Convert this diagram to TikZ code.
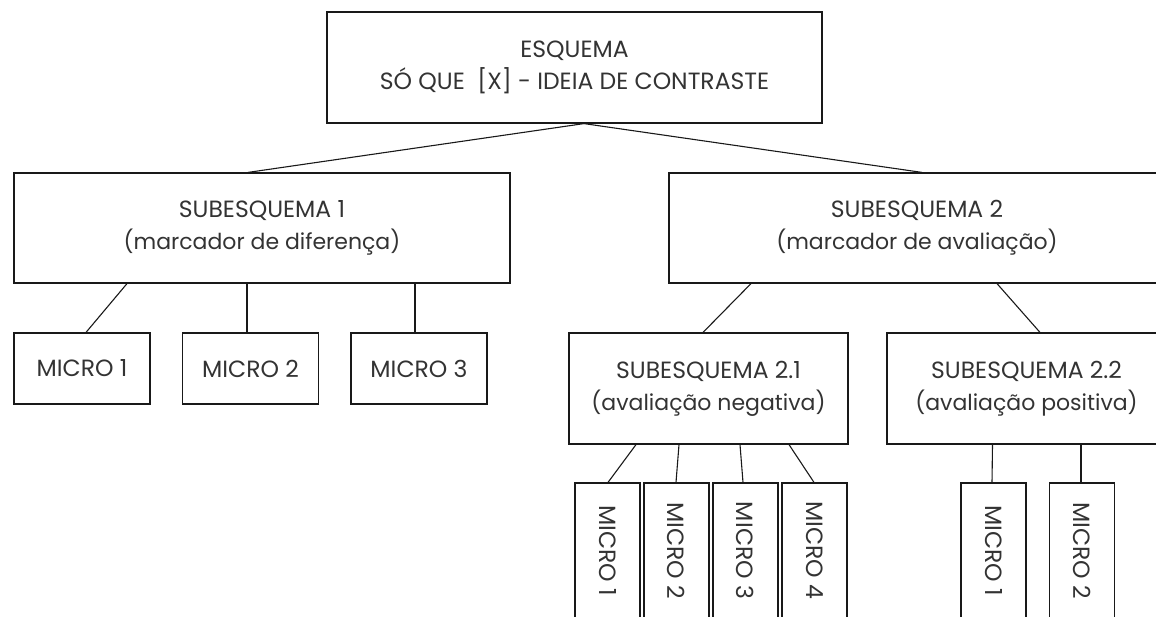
\documentclass[tikz,border=0pt]{standalone}
\usepackage{fontspec}
\setmainfont{Poppins}
\newcommand{\subline}[1]{{\fontsize{22}{32}\selectfont #1}}
\begin{document}
\begin{tikzpicture}[x=1pt,y=-1pt,
  box/.style={draw=black!90, line width=1.2pt, rectangle, inner sep=0pt,
    align=center, font=\fontsize{23.5}{32}\selectfont, text=black!80},
  microbox/.style={box, minimum width=136pt, minimum height=71pt},
  vbox/.style={box, minimum width=65pt, minimum height=135pt},
  link/.style={draw=black!90, line width=1.1pt}]
\useasboundingbox (0,0) rectangle (1156,616);
\clip (0,0) rectangle (1156,616);

% main scheme
\node[box, minimum width=495pt, minimum height=111pt] (top) at (574.5,67.5)
  {ESQUEMA\\SÓ QUE\ \ [X] - IDEIA DE CONTRASTE};

% first level
\node[box, minimum width=496pt, minimum height=110pt] (s1) at (262,228)
  {SUBESQUEMA 1\\\subline{(marcador de diferença)}};
\node[box, minimum width=496pt, minimum height=110pt] (s2) at (917,228)
  {SUBESQUEMA 2\\\subline{(marcador de avaliação)}};

% micro units of subscheme 1
\node[microbox] (m1) at (82,368.5) {MICRO 1};
\node[microbox] (m2) at (250.5,368.5) {MICRO 2};
\node[microbox] (m3) at (419,368.5) {MICRO 3};

% second level under subscheme 2
\node[box, minimum width=279pt, minimum height=111pt] (s21) at (708.5,388.5)
  {SUBESQUEMA 2.1\\\subline{(avaliação negativa)}};
\node[box, minimum width=279pt, minimum height=111pt] (s22) at (1026.5,388.5)
  {SUBESQUEMA 2.2\\\subline{(avaliação positiva)}};

% vertical micro units
\node[vbox] (n1) at (607.5,550.5) {\rotatebox{-90}{MICRO 1}};
\node[vbox] (n2) at (676.5,550.5) {\rotatebox{-90}{MICRO 2}};
\node[vbox] (n3) at (745.5,550.5) {\rotatebox{-90}{MICRO 3}};
\node[vbox] (n4) at (814.5,550.5) {\rotatebox{-90}{MICRO 4}};
\node[vbox] (p1) at (993.5,550.5) {\rotatebox{-90}{MICRO 1}};
\node[vbox] (p2) at (1082,550.5) {\rotatebox{-90}{MICRO 2}};

% connectors
\draw[link] ([xshift=9.5pt]top.south) -- ([xshift=-14pt]s1.north);
\draw[link] ([xshift=9.5pt]top.south) -- ([xshift=5pt]s2.north);

\draw[link] ([xshift=-135pt]s1.south) -- ([xshift=4pt]m1.north);
\draw[link] ([xshift=-15pt]s1.south) -- ([xshift=-3.5pt]m2.north);
\draw[link] ([xshift=153pt]s1.south) -- ([xshift=-4pt]m3.north);

\draw[link] ([xshift=-166pt]s2.south) -- ([xshift=-5.5pt]s21.north);
\draw[link] ([xshift=80pt]s2.south) -- ([xshift=13.5pt]s22.north);

\draw[link] ([xshift=-72.5pt]s21.south) -- ([xshift=0.5pt]n1.north);
\draw[link] ([xshift=-29.5pt]s21.south) -- ([xshift=-0.5pt]n2.north);
\draw[link] ([xshift=31.5pt]s21.south) -- ([xshift=-2.5pt]n3.north);
\draw[link] ([xshift=80.5pt]s21.south) -- ([xshift=-0.5pt]n4.north);

\draw[link] ([xshift=-34pt]s22.south) -- ([xshift=-1.5pt]p1.north);
\draw[link] ([xshift=54.5pt]s22.south) -- ([xshift=-1pt]p2.north);
\end{tikzpicture}
\end{document}
